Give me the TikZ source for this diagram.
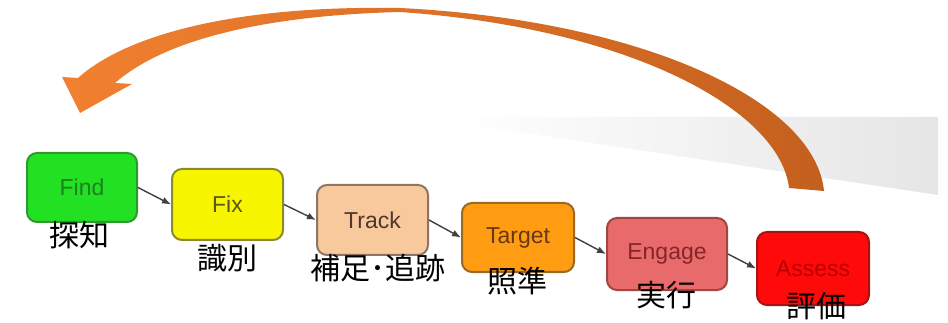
\documentclass[tikz,border=0pt]{standalone}
\usepackage{fontspec}
\setmainfont{Liberation Sans}
\newfontfamily\jp{Noto Sans CJK JP}
\usetikzlibrary{arrows.meta}
\definecolor{findF}{HTML}{22E022}\definecolor{findD}{HTML}{2E9A2E}\definecolor{findT}{HTML}{1F7F1F}
\definecolor{fixF}{HTML}{F8F500}\definecolor{fixD}{HTML}{8C8A30}\definecolor{fixT}{HTML}{58561A}
\definecolor{trkF}{HTML}{F8C99C}\definecolor{trkD}{HTML}{8E7462}\definecolor{trkT}{HTML}{4E382A}
\definecolor{tgtF}{HTML}{FF9C12}\definecolor{tgtD}{HTML}{9A6A24}\definecolor{tgtT}{HTML}{663814}
\definecolor{engF}{HTML}{E86A6A}\definecolor{engD}{HTML}{A04444}\definecolor{engT}{HTML}{852626}
\definecolor{assF}{HTML}{FF0A0A}\definecolor{assD}{HTML}{A81212}\definecolor{assT}{HTML}{B80000}
\definecolor{orL}{HTML}{F28030}\definecolor{orR}{HTML}{C4601E}
\begin{document}
\begin{tikzpicture}[x=1pt,y=-1pt,
  box/.style={draw, rounded corners=10pt, line width=2pt, inner sep=0pt, font=\fontsize{23}{26}\selectfont},
  lbl/.style={font=\jp\fontsize{30}{32}\selectfont, inner sep=0pt, text=black},
  link/.style={draw=black!75, line width=1.4pt, -{Latex[length=9pt,width=7pt]}}]
\useasboundingbox (0,0) rectangle (948,323);
\fill[white] (0,0) rectangle (948,323);
% faint grey wedge
\shade[left color=white, right color=black!10] (452,117) -- (938,117) -- (938,195) -- (452,122) -- cycle;
% boxes
\node[box, fill=findF, draw=findD, text=findT, minimum width=110pt, minimum height=69pt] (find) at (82,187.5) {Find};
\node[box, fill=fixF, draw=fixD, text=fixT, minimum width=111pt, minimum height=71pt] (fix) at (227.5,204.5) {Fix};
\node[box, fill=trkF, draw=trkD, text=trkT, minimum width=111pt, minimum height=70pt] (track) at (372.5,220) {Track};
\node[box, fill=tgtF, draw=tgtD, text=tgtT, minimum width=112pt, minimum height=69pt] (target) at (518,237.5) {Target};
\node[box, fill=engF, draw=engD, text=engT, minimum width=120pt, minimum height=72pt] (engage) at (667,254) {Engage};
\node[box, fill=assF, draw=assD, text=assT, minimum width=112pt, minimum height=73pt] (assess) at (813,268.5) {Assess};
% connectors
\draw[link] (find.east) -- (fix.west);
\draw[link] (fix.east) -- (track.west);
\draw[link] (track.east) -- (target.west);
\draw[link] (target.east) -- (engage.west);
\draw[link] (engage.east) -- (assess.west);
% japanese labels
\node[lbl] (l1) at (79,235) {探知};
\node[lbl] (l2) at (227,258) {識別};
\node[lbl] (l3) at (378,268) {補足･追跡};
\node[lbl] (l4) at (517,281) {照準};
\node[lbl] (l5) at (666,295) {実行};
\node[lbl] (l6) at (816,306) {評価};
% big orange return arrow
\shade[left color=orL, right color=orR]
  (824,191) .. controls (815,100) and (640,20) .. (400,8)
  .. controls (220,5) and (120,40) .. (78,78)
  -- (62,77) -- (80,113) -- (132,84) -- (115,83)
  .. controls (170,35) and (280,15) .. (400,12)
  .. controls (630,28) and (780,110) .. (789,188) -- cycle;
\end{tikzpicture}
\end{document}
